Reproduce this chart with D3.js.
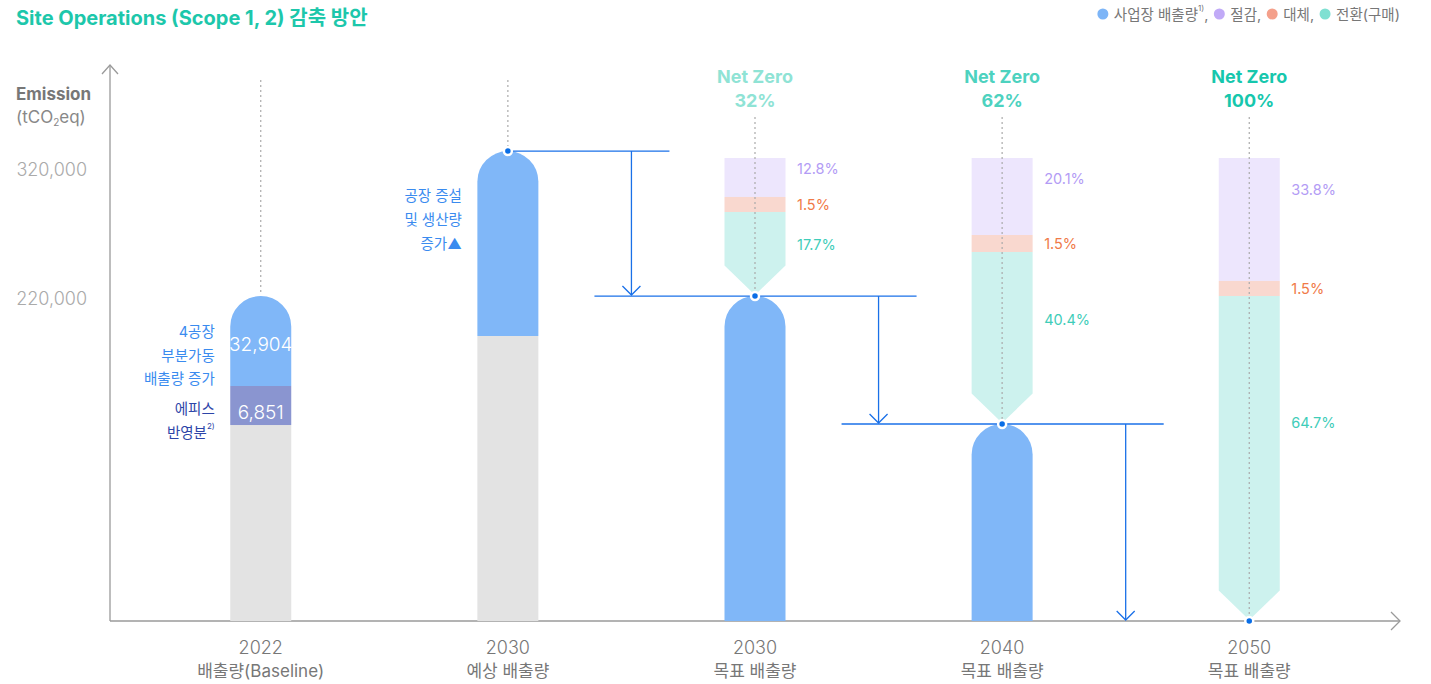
<!DOCTYPE html>
<html><head><meta charset="utf-8">
<script src="https://cdn.jsdelivr.net/npm/d3@7"></script>
<style>
body{margin:0;background:#fff}
svg{display:block}
text{font-family:Inter,"Noto Sans CJK KR",sans-serif}
</style>
</head><body>
<svg id="c" width="1431" height="684"></svg>
<script>
// ---------- DATA ----------
const keys = ["2022", "2030E", "2030T", "2040", "2050"];
const years = ["2022", "2030", "2030", "2040", "2050"];
const subLabels = ["배출량(Baseline)", "예상 배출량", "목표 배출량", "목표 배출량", "목표 배출량"];
const yTicks = [220000, 320000];
// stacked segment tops (tCO2eq)
const greyTop = [133900, 194700, null, null, null];
const episTop = [160600, null, null, null, null];
const siteTop = [222300, 334700, 222300, 134600, null];
const baselineNotes = ["32,904", "6,851"];
// reduction stacks for target bars
const reduceKeys = ["2030T", "2040", "2050"];
const stackTop = [329300, 329300, 329300];
const saveBottom = [299100, 269600, 234000];
const subBottom = [287400, 256400, 222300];
const transBottom = [222300, 134600, 0];
const savePct = ["12.8%", "20.1%", "33.8%"];
const subPct = ["1.5%", "1.5%", "1.5%"];
const transPct = ["17.7%", "40.4%", "64.7%"];
const netZero = ["32%", "62%", "100%"];
const legendItems = ["사업장 배출량", "절감,", "대체,", "전환(구매)"];

// ---------- STYLE ----------
const C = {
  grey: "#e3e3e3", blue: "#80b7f8", epis: "#8a95d0",
  save: "#ede6fd", sub: "#f9d8cf", trans: "#cdf2ee",
  savePctC: "#b39cf5", subPctC: "#f07a48", transPctC: "#3fcdb9",
  arrow: "#1a70e8", dot: "#0a6ee6", axis: "#9a9a9a"
};
const nzColors = ["#8fe3d5", "#4dd2bf", "#16c7ad"];
const legendColors = ["#7db5f7", "#c1aaf7", "#f4a08b", "#7fe0d2"];

const svg = d3.select("#c");
const x = d3.scalePoint().domain(keys).range([110, 1400]).padding(0.61);
const y = d3.scaleLinear().domain([0, 220000, 320000]).range([621, 299, 170]);
const bw = 61, r = bw / 2;

// title
svg.append("text").attr("x", 16).attr("y", 18).attr("dominant-baseline", "central")
  .attr("font-size", 20).attr("font-weight", 700).attr("fill", "#1dc7ab")
  .text("Site Operations (Scope 1, 2) 감축 방안");

// legend
const lg = svg.append("g");
let lx = 0;
legendItems.forEach((t, i) => {
  lg.append("circle").attr("cx", lx + 5).attr("cy", 14).attr("r", 5.5).attr("fill", legendColors[i]);
  const tx = lg.append("text").attr("x", lx + 16).attr("y", 14).attr("dominant-baseline", "central")
    .attr("font-size", 14.5).attr("fill", "#777").text(t);
  if (i === 0) {
    tx.append("tspan").attr("font-size", 8).attr("dy", -6).text("1)");
    tx.append("tspan").attr("dy", 6).text(",");
  }
  lx += 16 + tx.node().getComputedTextLength() + 6;
});
const lbb = lg.node().getBBox();
lg.attr("transform", `translate(${1400 - (lbb.x + lbb.width)},0)`);

// y-axis label
svg.append("text").attr("x", 16).attr("y", 94).attr("dominant-baseline", "central")
  .attr("font-size", 17).attr("font-weight", 700).attr("fill", "#777").text("Emission");
const ul = svg.append("text").attr("x", 16).attr("y", 117).attr("dominant-baseline", "central")
  .attr("font-size", 17).attr("fill", "#888").text("(tCO");
ul.append("tspan").attr("font-size", 10).attr("dy", 5).text("2");
ul.append("tspan").attr("dy", -5).text("eq)");

// y axis ticks
const ya = svg.append("g").attr("transform", "translate(110,0)")
  .call(d3.axisLeft(y).tickValues(yTicks).tickFormat(d3.format(",")).tickSize(0).tickPadding(23));
ya.select(".domain").remove();
ya.selectAll("text").attr("font-size", 18).attr("fill", "#aaa").attr("font-family", "Inter,'Noto Sans CJK KR',sans-serif").attr("font-weight", 300);

// axes lines
const y0 = y(0);
svg.append("line").attr("x1", 110).attr("x2", 110).attr("y1", 65).attr("y2", y0).attr("stroke", C.axis).attr("stroke-width", 1.3);
svg.append("polyline").attr("points", `102,74 110,65 118,74`).attr("fill", "none").attr("stroke", C.axis).attr("stroke-width", 1.3);
svg.append("line").attr("x1", 110).attr("x2", 1400).attr("y1", y0).attr("y2", y0).attr("stroke", C.axis).attr("stroke-width", 1.3);
svg.append("polyline").attr("points", `1391,${y0 - 9} 1400,${y0} 1391,${y0 + 9}`).attr("fill", "none").attr("stroke", C.axis).attr("stroke-width", 1.3);

// x labels
keys.forEach((k, i) => {
  svg.append("text").attr("x", x(k)).attr("y", 647).attr("text-anchor", "middle").attr("dominant-baseline", "central")
    .attr("font-size", 18).attr("fill", "#777").attr("font-weight", 300).text(years[i]);
  svg.append("text").attr("x", x(k)).attr("y", 671).attr("text-anchor", "middle").attr("dominant-baseline", "central")
    .attr("font-size", 17).attr("fill", "#777").text(subLabels[i]);
});

const dome = (cx, yt, yb) => `M${cx - r},${yb}V${yt + r}A${r},${r} 0 0 1 ${cx + r},${yt + r}V${yb}Z`;
const bars = svg.append("g");

// grey base
keys.forEach((k, i) => {
  if (greyTop[i] == null) return;
  bars.append("rect").attr("x", x(k) - r).attr("width", bw).attr("y", y(greyTop[i])).attr("height", y0 - y(greyTop[i])).attr("fill", C.grey);
});
// epis segment
keys.forEach((k, i) => {
  if (episTop[i] == null) return;
  bars.append("rect").attr("x", x(k) - r).attr("width", bw).attr("y", y(episTop[i])).attr("height", y(greyTop[i]) - y(episTop[i])).attr("fill", C.epis);
});
// site (blue) segment with dome
keys.forEach((k, i) => {
  if (siteTop[i] == null) return;
  const bottom = episTop[i] != null ? episTop[i] : (greyTop[i] != null ? greyTop[i] : 0);
  bars.append("path").attr("d", dome(x(k), y(siteTop[i]), y(bottom))).attr("fill", C.blue);
});

// reduction stacks
reduceKeys.forEach((k, j) => {
  const cx = x(k);
  bars.append("rect").attr("x", cx - r).attr("width", bw).attr("y", y(stackTop[j])).attr("height", y(saveBottom[j]) - y(stackTop[j])).attr("fill", C.save);
  bars.append("rect").attr("x", cx - r).attr("width", bw).attr("y", y(saveBottom[j])).attr("height", y(subBottom[j]) - y(saveBottom[j])).attr("fill", C.sub);
  const tip = y(transBottom[j]);
  bars.append("path").attr("d", `M${cx - r},${y(subBottom[j])}V${tip - r}L${cx},${tip - 1}L${cx + r},${tip - r}V${y(subBottom[j])}Z`).attr("fill", C.trans);
  // labels
  const lxp = cx + 42;
  const sTop = y(stackTop[j]), sBot = y(saveBottom[j]);
  svg.append("text").attr("x", lxp).attr("y", sTop + (sBot - sTop) * 0.26).attr("dominant-baseline", "central")
    .attr("font-size", 14.5).attr("fill", C.savePctC).text(savePct[j]);
  svg.append("text").attr("x", lxp).attr("y", (sBot + y(subBottom[j])) / 2).attr("dominant-baseline", "central")
    .attr("font-size", 14.5).attr("fill", C.subPctC).text(subPct[j]);
  const tTop = y(subBottom[j]);
  svg.append("text").attr("x", lxp).attr("y", tTop + (tip - tTop) * 0.39).attr("dominant-baseline", "central")
    .attr("font-size", 14.5).attr("fill", C.transPctC).text(transPct[j]);
  // Net Zero
  svg.append("text").attr("x", cx).attr("y", 76).attr("text-anchor", "middle").attr("dominant-baseline", "central")
    .attr("font-size", 18).attr("font-weight", 700).attr("fill", nzColors[j]).text("Net Zero");
  svg.append("text").attr("x", cx).attr("y", 100).attr("text-anchor", "middle").attr("dominant-baseline", "central")
    .attr("font-size", 18).attr("font-weight", 700).attr("fill", nzColors[j]).text(netZero[j]);
});

// dotted guides
keys.forEach((k, i) => {
  const top = i < 2 ? 80 : 117;
  const end = siteTop[i] != null ? y(siteTop[i]) : y0;
  svg.append("line").attr("x1", x(k)).attr("x2", x(k)).attr("y1", top).attr("y2", end - 3)
    .attr("stroke", "#aaa").attr("stroke-width", 1.2).attr("stroke-dasharray", "2,3");
});

// blue arrows
const levels = [siteTop[1], siteTop[2], siteTop[3], 0];
const chain = ["2030E", "2030T", "2040", "2050"];
const mids = [0, 1, 2].map(i => (x(chain[i]) + x(chain[i + 1])) / 2);
[0, 1, 2].forEach(i => {
  const yl = y(levels[i]);
  const left = i === 0 ? x(chain[0]) : mids[i - 1] - 37;
  svg.append("line").attr("x1", left).attr("x2", mids[i] + 38).attr("y1", yl).attr("y2", yl)
    .attr("stroke", C.arrow).attr("stroke-width", 1.3);
  const ye = y(levels[i + 1]);
  svg.append("line").attr("x1", mids[i]).attr("x2", mids[i]).attr("y1", yl).attr("y2", ye - 1)
    .attr("stroke", C.arrow).attr("stroke-width", 1.3);
  svg.append("polyline").attr("points", `${mids[i] - 9},${ye - 10} ${mids[i]},${ye - 1} ${mids[i] + 9},${ye - 10}`)
    .attr("fill", "none").attr("stroke", C.arrow).attr("stroke-width", 1.3);
});

// dots
chain.forEach((k, i) => {
  svg.append("circle").attr("cx", x(k)).attr("cy", y(levels[i])).attr("r", 4)
    .attr("fill", C.dot).attr("stroke", "#fff").attr("stroke-width", 2.5);
});

// baseline notes
const bx = x("2022");
svg.append("text").attr("x", bx).attr("y", 344).attr("text-anchor", "middle").attr("dominant-baseline", "central")
  .attr("font-size", 19).attr("fill", "#fff").attr("font-weight", 300).text(baselineNotes[0]);
svg.append("text").attr("x", bx).attr("y", 412).attr("text-anchor", "middle").attr("dominant-baseline", "central")
  .attr("font-size", 19).attr("fill", "#fff").attr("font-weight", 300).text(baselineNotes[1]);
[["4공장", 331], ["부분가동", 355], ["배출량 증가", 378]].forEach(([t, yy]) => {
  svg.append("text").attr("x", bx - 46).attr("y", yy).attr("text-anchor", "end").attr("dominant-baseline", "central")
    .attr("font-size", 14.5).attr("fill", "#3a8bef").text(t);
});
svg.append("text").attr("x", bx - 46).attr("y", 408).attr("text-anchor", "end").attr("dominant-baseline", "central")
  .attr("font-size", 14.5).attr("fill", "#2d45a8").text("에피스");
const bo = svg.append("text").attr("x", bx - 46).attr("y", 432).attr("text-anchor", "end").attr("dominant-baseline", "central")
  .attr("font-size", 14.5).attr("fill", "#2d45a8").text("반영분");
bo.append("tspan").attr("font-size", 8).attr("dy", -6).text("2)");

const ex = x("2030E");
[["공장 증설", 195], ["및 생산량", 219], ["증가▲", 243]].forEach(([t, yy]) => {
  svg.append("text").attr("x", ex - 46).attr("y", yy).attr("text-anchor", "end").attr("dominant-baseline", "central")
    .attr("font-size", 14.5).attr("fill", "#3a8bef").text(t);
});
</script>
</body></html>
